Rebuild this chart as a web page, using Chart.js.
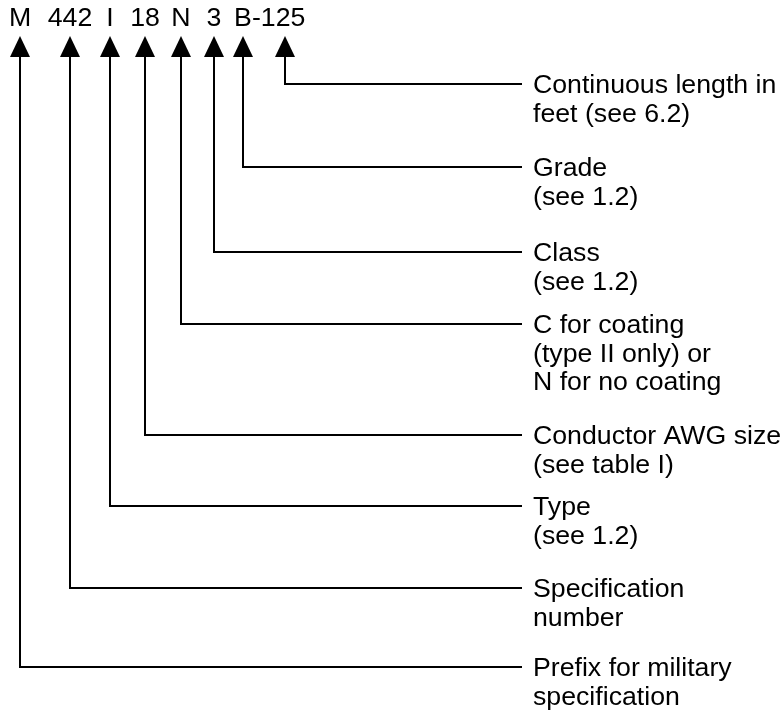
<!DOCTYPE html>
<html>
<head>
<meta charset="utf-8">
<script src="https://cdn.jsdelivr.net/npm/chart.js@4.4.1/dist/chart.umd.min.js"></script>
<style>
  html, body { margin: 0; padding: 0; background: #fff; }
  #wrap { width: 783px; height: 712px; }
</style>
</head>
<body>
<div id="wrap"><canvas id="chart" width="783" height="712"></canvas></div>
<script>
// parts of the designation, left to right
const codes = ['M', '442', 'I', '18', 'N', '3', 'B-125'];
// where each arrow points (x), B-125 has two arrows (B and 125)
const arrowX = [20, 70, 110, 145, 181, 214, 243, 285];
// y of the horizontal leader for each arrow
const leaderY = [667, 588, 506, 435, 324, 252, 167, 84];
// callout text for each arrow, same order
const labels = [
  ['Prefix for military', 'specification'],
  ['Specification', 'number'],
  ['Type', '(see 1.2)'],
  ['Conductor AWG size', '(see table I)'],
  ['C for coating', '(type II only) or', 'N for no coating'],
  ['Class', '(see 1.2)'],
  ['Grade', '(see 1.2)'],
  ['Continuous length in', 'feet (see 6.2)']
];

// layout
const W = 783, H = 712;
const arrowTop = 36, arrowBase = 57, arrowW = 20;
const leaderEnd = 522;
const textX = 533;
const lineH = 28.5;
const FONT = '26.7px "Liberation Sans", Arial, Helvetica, sans-serif';

// triangle arrow head as a point style
const tri = document.createElement('canvas');
tri.width = arrowW;
tri.height = arrowBase - arrowTop;
const tctx = tri.getContext('2d');
tctx.fillStyle = '#000';
tctx.beginPath();
tctx.moveTo(arrowW / 2, 0);
tctx.lineTo(arrowW, tri.height);
tctx.lineTo(0, tri.height);
tctx.closePath();
tctx.fill();

const datasets = arrowX.map((x, i) => ({
  data: [
    { x: x, y: arrowBase - 1 },
    { x: x, y: leaderY[i] },
    { x: leaderEnd, y: leaderY[i] }
  ],
  showLine: true,
  borderColor: '#000',
  borderWidth: 2,
  pointRadius: 0,
  fill: false
}));

datasets.push({
  data: arrowX.map(x => ({ x: x, y: (arrowTop + arrowBase) / 2 })),
  showLine: false,
  pointStyle: tri,
  pointRadius: 10
});

const textPlugin = {
  id: 'callouts',
  afterDraw(chart) {
    const ctx = chart.ctx;
    const xs = chart.scales.x, ys = chart.scales.y;
    ctx.save();
    ctx.fillStyle = '#000';
    ctx.font = FONT;
    ctx.textBaseline = 'alphabetic';

    // top code line, each token centred over its arrow
    codes.forEach((c, i) => {
      const px = xs.getPixelForValue(arrowX[i]);
      if (c.length > 1 && c[0] === 'B') {
        const bw = ctx.measureText('B').width;
        ctx.textAlign = 'left';
        ctx.fillText(c, px - bw / 2, ys.getPixelForValue(26));
      } else {
        ctx.textAlign = 'center';
        ctx.fillText(c, px, ys.getPixelForValue(26));
      }
    });

    // callout texts
    ctx.textAlign = 'left';
    labels.forEach((lines, i) => {
      lines.forEach((t, j) => {
        ctx.fillText(t, xs.getPixelForValue(textX), ys.getPixelForValue(leaderY[i] + 9 + j * lineH));
      });
    });
    ctx.restore();
  }
};

new Chart(document.getElementById('chart'), {
  type: 'scatter',
  data: { datasets: datasets },
  options: {
    responsive: false,
    animation: false,
    layout: { padding: 0, autoPadding: false },
    plugins: { legend: { display: false }, tooltip: { enabled: false } },
    scales: {
      x: { type: 'linear', min: 0, max: W, display: false },
      y: { type: 'linear', min: 0, max: H, reverse: true, display: false }
    }
  },
  plugins: [textPlugin]
});
</script>
</body>
</html>
